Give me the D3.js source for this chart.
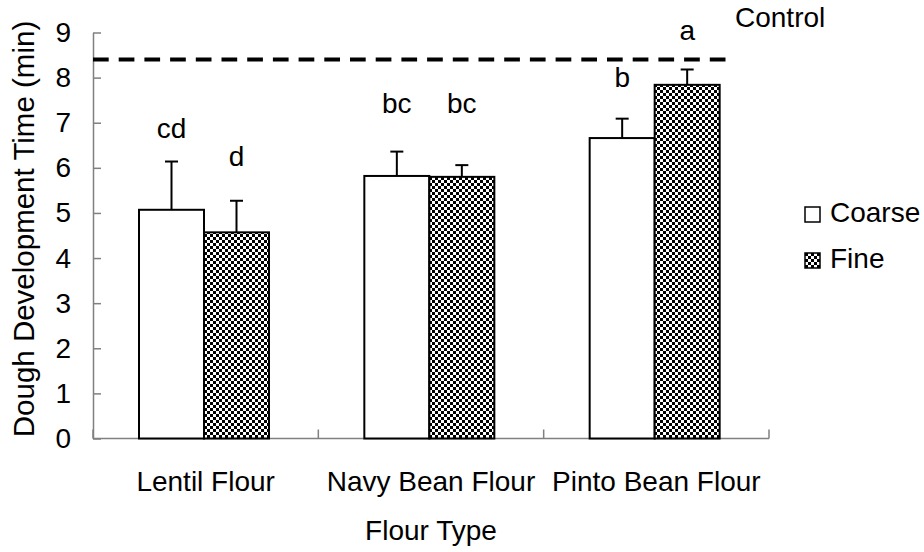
<!DOCTYPE html>
<meta charset="utf-8">
<style>
  body { margin: 0; background: #fff; }
  text { font-family: "Liberation Sans", Arial, sans-serif; fill: #000; }
</style>
<svg width="924" height="552"></svg>
<script src="https://cdn.jsdelivr.net/npm/d3@7"></script>
<script>

// data
var categories = ["Lentil Flour", "Navy Bean Flour", "Pinto Bean Flour"];
var series = ["Coarse", "Fine"];
var coarseValues = [5.07, 5.82, 6.66];
var fineValues = [4.57, 5.80, 7.84];
var coarseErrors = [1.07, 0.54, 0.43];
var fineErrors = [0.70, 0.26, 0.34];
var coarseLetters = ["cd", "bc", "b"];
var fineLetters = ["d", "bc", "a"];
var coarseLetterY = [6.66, 7.22, 7.80];
var fineLetterY = [6.05, 7.22, 8.83];
var controlValue = 8.4;
var yTicks = [0, 1, 2, 3, 4, 5, 6, 7, 8, 9];

var rows = [];
categories.forEach(function (c, i) {
	rows.push({cat: c, s: "Coarse", v: coarseValues[i], e: coarseErrors[i], l: coarseLetters[i], ly: coarseLetterY[i]});
	rows.push({cat: c, s: "Fine", v: fineValues[i], e: fineErrors[i], l: fineLetters[i], ly: fineLetterY[i]});
});

var svg = d3.select("svg");
var plotLeft = 93, plotRight = 769, plotTop = 32.5, plotBottom = 438.5;
var fs = 28;

var defs = svg.append("defs");
var pat = defs.append("pattern")
	.attr("id", "checker")
	.attr("patternUnits", "userSpaceOnUse")
	.attr("width", 6).attr("height", 6);
pat.append("rect").attr("width", 6).attr("height", 6).attr("fill", "#fff");
pat.append("rect").attr("width", 3).attr("height", 3).attr("fill", "#000");
pat.append("rect").attr("x", 3).attr("y", 3).attr("width", 3).attr("height", 3).attr("fill", "#000");

var x0 = d3.scaleBand().domain(categories).range([plotLeft, plotRight]);
var x1 = d3.scaleBand().domain(series).range([46, 176]);
var y = d3.scaleLinear().domain([0, 9]).range([plotBottom, plotTop]);

// y axis
var yAxis = svg.append("g")
	.attr("transform", "translate(" + plotLeft + ",0)")
	.call(d3.axisLeft(y).tickValues(yTicks).tickSizeInner(-8).tickSizeOuter(0).tickPadding(22));
yAxis.select(".domain").attr("stroke", "#808080").attr("stroke-width", 1.5);
yAxis.selectAll(".tick line").attr("stroke", "#808080").attr("stroke-width", 1.5);
yAxis.selectAll(".tick text").style("font-size", fs + "px").attr("font-family", null);
yAxis.attr("font-family", null).attr("font-size", null);

// x axis
svg.append("line")
	.attr("x1", plotLeft).attr("x2", plotRight)
	.attr("y1", plotBottom).attr("y2", plotBottom)
	.attr("stroke", "#808080").attr("stroke-width", 1.5);
var bounds = categories.map(function (c) { return x0(c); }).concat([plotRight]);
svg.selectAll(".xtick")
	.data(bounds)
	.enter().append("line")
	.attr("class", "xtick")
	.attr("x1", function (d) { return d; })
	.attr("x2", function (d) { return d; })
	.attr("y1", plotBottom).attr("y2", plotBottom - 9)
	.attr("stroke", "#808080").attr("stroke-width", 1.5);

svg.selectAll(".xlabel")
	.data(categories)
	.enter().append("text")
	.attr("class", "xlabel")
	.attr("x", function (d) { return x0(d) + x0.bandwidth() / 2; })
	.attr("y", 491)
	.attr("text-anchor", "middle")
	.style("font-size", fs + "px")
	.text(function (d) { return d; });

svg.append("text")
	.attr("x", (plotLeft + plotRight) / 2)
	.attr("y", 540)
	.attr("text-anchor", "middle")
	.style("font-size", fs + "px")
	.text("Flour Type");

svg.append("text")
	.attr("transform", "translate(34,229) rotate(-90)")
	.attr("text-anchor", "middle")
	.style("font-size", "29.5px")
	.text("Dough Development Time (min)");

// control line
svg.append("line")
	.attr("x1", plotLeft).attr("x2", 727)
	.attr("y1", y(controlValue)).attr("y2", y(controlValue))
	.attr("stroke", "#000").attr("stroke-width", 4)
	.attr("stroke-dasharray", "15.7,10");
svg.append("text")
	.attr("x", 735).attr("y", 26.5)
	.style("font-size", fs + "px")
	.text("Control");

// error bars
var bx = function (d) { return x0(d.cat) + x1(d.s); };
var err = svg.selectAll(".err").data(rows).enter().append("g").attr("class", "err");
err.append("line")
	.attr("x1", function (d) { return bx(d) + x1.bandwidth() / 2; })
	.attr("x2", function (d) { return bx(d) + x1.bandwidth() / 2; })
	.attr("y1", function (d) { return y(d.v); })
	.attr("y2", function (d) { return y(d.v + d.e); })
	.attr("stroke", "#000").attr("stroke-width", 2);
err.append("line")
	.attr("x1", function (d) { return bx(d) + x1.bandwidth() / 2 - 6.5; })
	.attr("x2", function (d) { return bx(d) + x1.bandwidth() / 2 + 6.5; })
	.attr("y1", function (d) { return y(d.v + d.e); })
	.attr("y2", function (d) { return y(d.v + d.e); })
	.attr("stroke", "#000").attr("stroke-width", 2);

// bars
svg.selectAll(".bar")
	.data(rows)
	.enter().append("rect")
	.attr("class", "bar")
	.attr("x", bx)
	.attr("y", function (d) { return y(d.v); })
	.attr("width", x1.bandwidth())
	.attr("height", function (d) { return plotBottom - y(d.v); })
	.attr("fill", function (d) { return d.s === "Fine" ? "url(#checker)" : "#fff"; })
	.attr("stroke", "#000").attr("stroke-width", 2);

// significance letters
svg.selectAll(".letter")
	.data(rows)
	.enter().append("text")
	.attr("class", "letter")
	.attr("x", function (d) { return bx(d) + x1.bandwidth() / 2; })
	.attr("y", function (d) { return y(d.ly); })
	.attr("text-anchor", "middle")
	.style("font-size", fs + "px")
	.text(function (d) { return d.l; });

// legend
var leg = svg.selectAll(".leg")
	.data(series)
	.enter().append("g")
	.attr("class", "leg")
	.attr("transform", function (d, i) { return "translate(805," + (207 + i * 46) + ")"; });
leg.append("rect")
	.attr("width", 15).attr("height", 15)
	.attr("fill", function (d) { return d === "Fine" ? "url(#checker)" : "#fff"; })
	.attr("stroke", "#000").attr("stroke-width", 1.5);
leg.append("text")
	.attr("x", 25).attr("y", 15)
	.style("font-size", fs + "px")
	.text(function (d) { return d; });

</script>
